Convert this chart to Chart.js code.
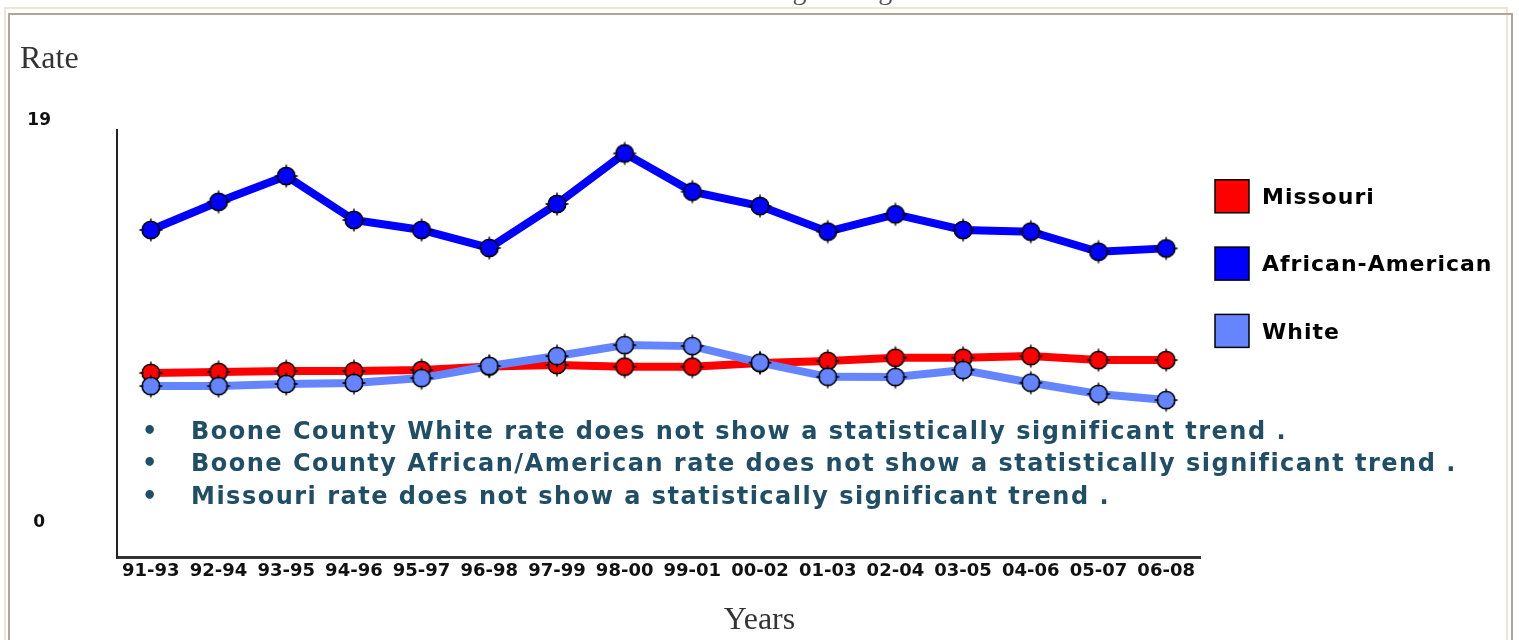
<!DOCTYPE html>
<html>
<head>
<meta charset="utf-8">
<script src="https://cdn.jsdelivr.net/npm/chart.js@4.4.0/dist/chart.umd.min.js"></script>
<style>
  html, body { margin: 0; padding: 0; background: #fff; overflow: hidden; }
  body { width: 1519px; height: 640px; position: relative; }
  #frameOuter { position: absolute; left: 4px; top: 7px; width: 1500px; height: 700px; border: 2px solid #efe5d6; }
  #frameInner { position: absolute; left: 8px; top: 13px; width: 1501px; height: 700px; border: 2px solid #b1a599; }
  #wrap { position: absolute; left: 0; top: 0; width: 1519px; height: 640px; }
  .serif { position: absolute; font-family: "Liberation Serif", serif; color: #333; white-space: nowrap; }
  #title { left: 0; width: 1562px; text-align: center; top: -24px; font-size: 28px; line-height: 28px; color: #555; }
  #rateLbl { left: 20px; top: 39px; font-size: 32px; line-height: 36px; }
  #yearsLbl { left: 0; width: 1519px; text-align: center; top: 600px; font-size: 32px; line-height: 36px; }
  .note { position: absolute; left: 0; font-family: "DejaVu Sans", sans-serif; font-weight: bold; font-size: 24px; line-height: 32px; color: #1f4e66; white-space: nowrap; }
  .note .dot { position: absolute; left: 142px; }
  .note .txt { position: absolute; left: 191px; letter-spacing: 1.5px; }
</style>
</head>
<body>
<div id="frameOuter"></div>
<div id="frameInner"></div>
<div id="wrap"><canvas id="chartRates"></canvas></div>
<div class="serif" id="title">Three Year Moving Average Rates</div>
<div class="serif" id="rateLbl">Rate</div>
<div class="serif" id="yearsLbl">Years</div>
<div class="note" style="top:415px"><span class="dot">•</span><span class="txt">Boone County White rate does not show a statistically significant trend .</span></div>
<div class="note" style="top:447px"><span class="dot">•</span><span class="txt">Boone County African/American rate does not show a statistically significant trend .</span></div>
<div class="note" style="top:480px"><span class="dot">•</span><span class="txt">Missouri rate does not show a statistically significant trend .</span></div>
<script>
// Datos
const periodos = ['91-93', '92-94', '93-95', '94-96', '95-97', '96-98', '97-99', '98-00',
                  '99-01', '00-02', '01-03', '02-04', '03-05', '04-06', '05-07', '06-08'];
const tasaMissouri = [7.09, 7.14, 7.18, 7.18, 7.23, 7.40, 7.47, 7.39, 7.39, 7.56, 7.66, 7.81, 7.81, 7.89, 7.70, 7.70];
const tasaAfroAmericana = [13.85, 15.18, 16.40, 14.32, 13.85, 13.00, 15.08, 17.47, 15.66, 14.98, 13.77, 14.59, 13.85, 13.77, 12.82, 12.98];
const tasaBlanca = [6.47, 6.47, 6.57, 6.62, 6.85, 7.42, 7.89, 8.41, 8.36, 7.58, 6.91, 6.90, 7.23, 6.63, 6.10, 5.81];
const ticksY = [0, 19];

// marcador: circulo con borde negro y pequenas marcas en cruz
function crearMarcador(color) {
    const c = document.createElement('canvas');
    c.width = 30; c.height = 30;
    const g = c.getContext('2d');
    g.fillStyle = color;
    g.strokeStyle = '#000';
    g.lineWidth = 1.6;
    g.beginPath();
    g.arc(15, 15, 8.8, 0, Math.PI * 2);
    g.fill();
    g.stroke();
    g.lineWidth = 1.3;
    g.beginPath();
    g.moveTo(15, 3.5); g.lineTo(15, 7.5);
    g.moveTo(15, 22.5); g.lineTo(15, 26.5);
    g.moveTo(3.5, 15); g.lineTo(7.5, 15);
    g.moveTo(22.5, 15); g.lineTo(26.5, 15);
    g.stroke();
    return c;
}

// leyenda a la derecha, como en el original
const leyendaLateral = {
    id: 'leyendaLateral',
    afterDatasetsDraw(chart) {
        const ctx = chart.ctx;
        const area = chart.chartArea;
        ctx.save();
        ctx.font = 'bold 22px "DejaVu Sans"';
        ctx.letterSpacing = '1px';
        ctx.textBaseline = 'middle';
        chart.data.datasets.forEach((ds, i) => {
            const x = area.right + 15;
            const y = area.top + 66.3 + i * 67.3;
            ctx.fillStyle = ds.borderColor;
            ctx.fillRect(x, y - 16.5, 34, 33);
            ctx.lineWidth = 1.5;
            ctx.strokeStyle = '#000';
            ctx.strokeRect(x, y - 16.5, 34, 33);
            ctx.fillStyle = '#000';
            ctx.fillText(ds.label, x + 47, y + 2);
        });
        ctx.restore();
    }
};

const colores = { missouri: '#ff0000', afro: '#0000ff', blanca: '#6485ff' };

const ctxTasas = document.getElementById('chartRates').getContext('2d');
new Chart(ctxTasas, {
    type: 'line',
    data: {
        labels: periodos,
        datasets: [
            {
                label: 'Missouri',
                data: tasaMissouri,
                borderColor: colores.missouri,
                backgroundColor: colores.missouri,
                borderWidth: 8,
                pointStyle: crearMarcador(colores.missouri),
                order: 1
            },
            {
                label: 'African-American',
                data: tasaAfroAmericana,
                borderColor: colores.afro,
                backgroundColor: colores.afro,
                borderWidth: 8,
                pointStyle: crearMarcador(colores.afro),
                order: 2
            },
            {
                label: 'White',
                data: tasaBlanca,
                borderColor: colores.blanca,
                backgroundColor: colores.blanca,
                borderWidth: 8,
                pointStyle: crearMarcador(colores.blanca),
                order: 0
            }
        ]
    },
    options: {
        responsive: true,
        maintainAspectRatio: false,
        animation: false,
        events: [],
        layout: { padding: { top: 130, right: 319, bottom: 0, left: 0 } },
        plugins: {
            legend: { display: false },
            tooltip: { enabled: false }
        },
        scales: {
            x: {
                offset: true,
                grid: { display: false, drawTicks: false },
                border: { display: true, color: '#333', width: 3 },
                ticks: {
                    color: '#111',
                    padding: 4,
                    maxRotation: 0,
                    autoSkip: false,
                    font: { family: 'DejaVu Sans', weight: 'bold', size: 18 }
                },
                afterFit: function (s) { s.height = 83; }
            },
            y: {
                min: -1.607,
                max: 18.575,
                grid: { display: false, drawTicks: false },
                border: { display: true, color: '#222', width: 2 },
                ticks: {
                    color: '#111',
                    crossAlign: 'center',
                    padding: 66,
                    font: { family: 'DejaVu Sans', weight: 'bold', size: 17 }
                },
                afterBuildTicks: function (s) { s.ticks = ticksY.map(v => ({ value: v })); },
                afterFit: function (s) { s.width = 117; }
            }
        }
    },
    plugins: [leyendaLateral]
});
</script>
</body>
</html>
